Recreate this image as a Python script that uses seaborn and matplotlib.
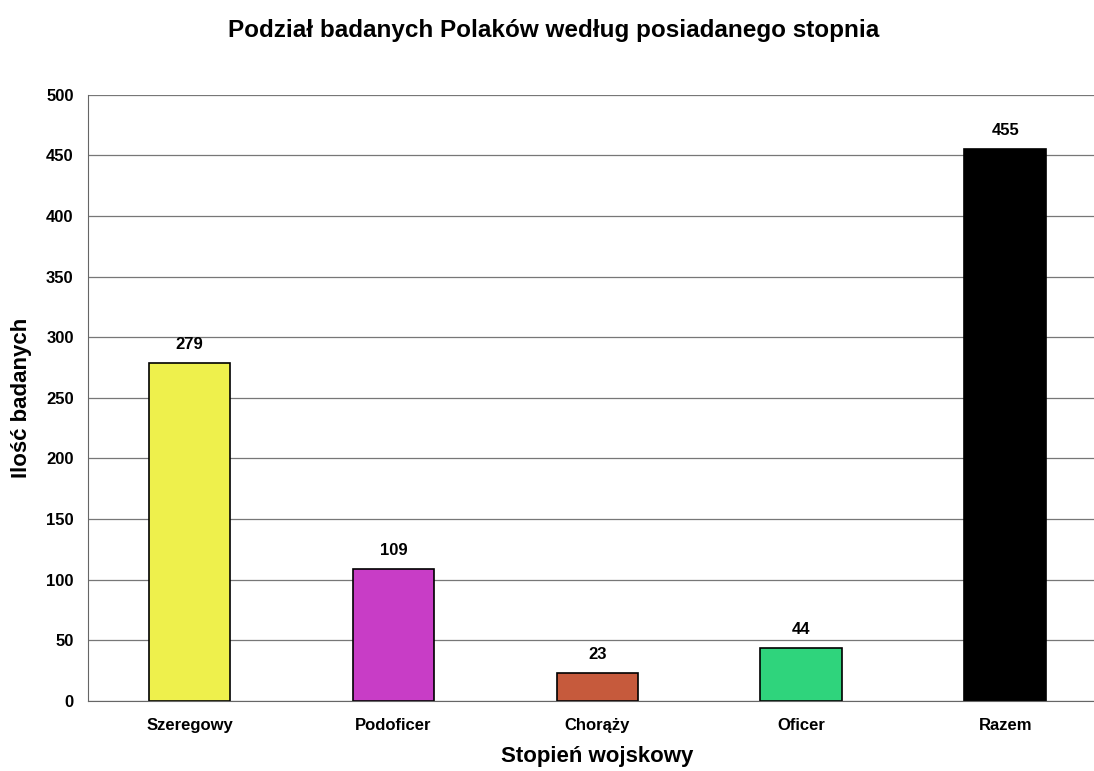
import pandas as pd
import matplotlib.pyplot as plt
import seaborn as sns

sns.set_style("white")
plt.rcParams['font.family'] = ['Liberation Sans', 'DejaVu Sans']
plt.rcParams['text.color'] = 'black'
plt.rcParams['axes.labelcolor'] = 'black'
plt.rcParams['xtick.color'] = 'black'
plt.rcParams['ytick.color'] = 'black'

# dane
stopnie = ["Szeregowy", "Podoficer", "Chorąży", "Oficer", "Razem"]
liczba = [279, 109, 23, 44, 455]
kolory = ["#eef04c", "#c83dc6", "#c65a3c", "#2fd47c", "#000000"]

df = pd.DataFrame({"stopien": stopnie, "ilosc": liczba})

fig = plt.figure(figsize=(10.94, 7.71), dpi=100)
ax = fig.add_axes([0.080, 0.091, 0.932, 0.786])

sns.barplot(data=df, x="stopien", y="ilosc", hue="stopien", palette=kolory,
            legend=False, width=0.4, saturation=1, edgecolor="black",
            linewidth=1.2, ax=ax)

for i, v in enumerate(liczba):
    ax.text(i, v + 9, str(v), ha="center", va="bottom", fontsize=12, fontweight="bold")

ax.set_xlim(-0.5, 4.5)
ax.set_ylim(0, 500)
ax.set_yticks(range(0, 501, 50))
ax.yaxis.grid(True, color="#777777", linewidth=0.9)
ax.set_axisbelow(True)
for s in ["top", "right"]:
    ax.spines[s].set_visible(False)
for s in ["left", "bottom"]:
    ax.spines[s].set_color("#666666")
ax.tick_params(axis="y", length=4, color="#666666", labelsize=12, pad=6)
ax.tick_params(axis="x", length=0, labelsize=12, pad=12)
for lab in ax.get_xticklabels() + ax.get_yticklabels():
    lab.set_fontweight("bold")

fig.text(0.506, 1 - 30 / 771, "Podział badanych Polaków według posiadanego stopnia",
         ha="center", va="center", fontsize=17.5, fontweight="bold")
ax.set_xlabel("Stopień wojskowy", fontsize=16, fontweight="bold", labelpad=10)
ax.set_ylabel("Ilość badanych", fontsize=16, fontweight="bold", labelpad=10)

fig.savefig("out.png", dpi=100)
